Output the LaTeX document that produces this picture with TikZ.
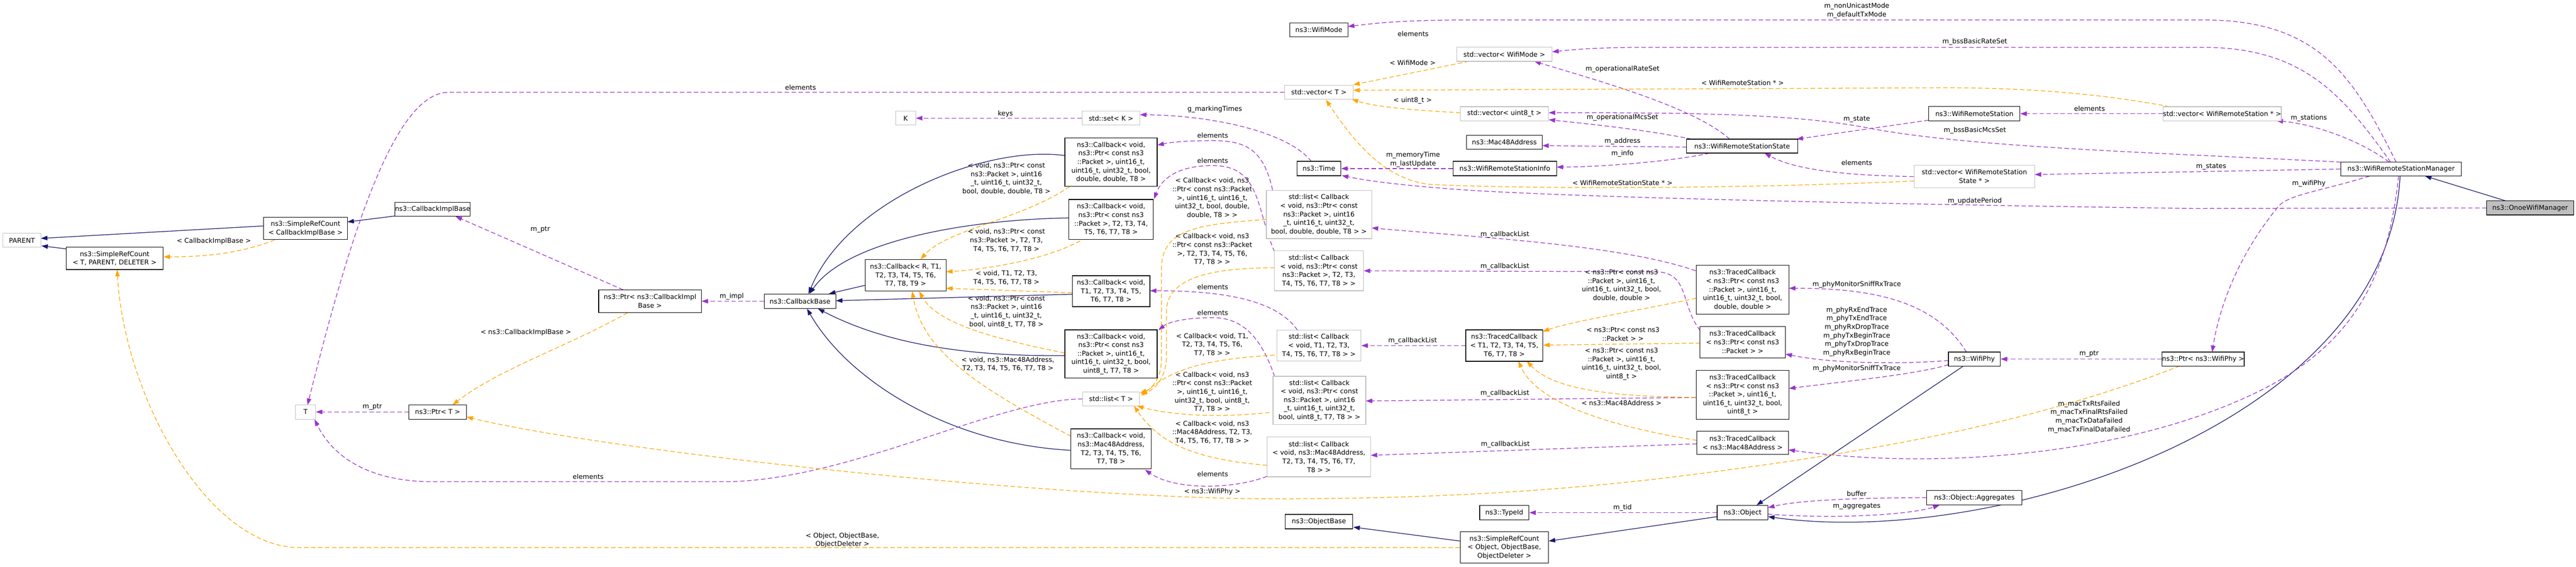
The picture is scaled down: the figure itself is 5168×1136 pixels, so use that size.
\documentclass[tikz,border=0pt]{standalone}
\usepackage{fontspec}
\setmainfont{DejaVu Sans}
\usetikzlibrary{arrows.meta,calc}
\definecolor{inhc}{HTML}{191970}
\definecolor{usec}{HTML}{9A32CD}
\definecolor{tplc}{HTML}{FFA500}
\definecolor{gbord}{HTML}{BFBFBF}
\definecolor{gfill}{HTML}{BFBFBF}
\pgfdeclarelayer{bglayer}
\pgfdeclarelayer{edgelayer}
\pgfsetlayers{bglayer,edgelayer,main}
\begin{document}
\begin{tikzpicture}[x=1pt,y=-1pt,
  every node/.style={font=\fontsize{13.33}{17.2}\selectfont},
  box/.style={draw=black,line width=1.2pt,fill=white,align=center,inner sep=0pt},
  gbox/.style={draw=gbord,line width=1.2pt,fill=white,align=center,inner sep=0pt},
  lbl/.style={align=center,inner sep=0pt},
  arrowtip/.style={-{Triangle[length=13pt,width=9pt]}},
  inh/.style={draw=inhc,line width=1.3pt,arrowtip},
  use/.style={draw=usec,line width=1.3pt,dash pattern=on 9pt off 5pt,arrowtip},
  tpl/.style={draw=tplc,line width=1.3pt,dash pattern=on 9pt off 5pt,arrowtip},
]
\useasboundingbox (0,0) rectangle (5168,1136);
\begin{pgfonlayer}{bglayer}
\fill[white] (0,0) rectangle (5168,1136);
\end{pgfonlayer}

% ---------------- nodes ----------------
\node[gbox,minimum width=76pt,minimum height=28pt] (PARENT) at (44,482) {PARENT};
\node[box,minimum width=168pt,minimum height=45pt] (SRCcib) at (613,458) {ns3::SimpleRefCount\\< CallbackImplBase >};
\node[box,minimum width=195pt,minimum height=45pt] (SRCtpd) at (230,518) {ns3::SimpleRefCount\\< T, PARENT, DELETER >};
\node[box,minimum width=150pt,minimum height=28pt] (CIB) at (868,420) {ns3::CallbackImplBase};
\node[gbox,minimum width=40pt,minimum height=29pt] (T) at (613,826) {T};
\node[box,minimum width=115pt,minimum height=29pt] (PtrT) at (878,826) {ns3::Ptr< T >};
\node[box,minimum width=206pt,minimum height=46pt] (PtrCIB) at (1304,604) {ns3::Ptr< ns3::CallbackImpl\\Base >};
\node[box,minimum width=144pt,minimum height=29pt] (CB) at (1605,604) {ns3::CallbackBase};
\node[box,minimum width=162pt,minimum height=63pt] (CbR) at (1817,552) {ns3::Callback< R, T1,\\T2, T3, T4, T5, T6,\\T7, T8, T9 >};
\node[gbox,minimum width=40pt,minimum height=28pt] (K) at (1817,237) {K};
\node[gbox,minimum width=116pt,minimum height=28pt] (setK) at (2229,237) {std::set< K >};
\node[box,minimum width=185pt,minimum height=97pt] (CbD) at (2229,325) {ns3::Callback< void,\\ns3::Ptr< const ns3\\::Packet >, uint16\_t,\\uint16\_t, uint32\_t, bool,\\double, double, T8 >};
\node[box,minimum width=170pt,minimum height=80pt] (CbP) at (2229,440) {ns3::Callback< void,\\ns3::Ptr< const ns3\\::Packet >, T2, T3, T4,\\T5, T6, T7, T8 >};
\node[box,minimum width=156pt,minimum height=62pt] (CbV) at (2229,584) {ns3::Callback< void,\\T1, T2, T3, T4, T5,\\T6, T7, T8 >};
\node[box,minimum width=185pt,minimum height=97pt] (CbU) at (2229,710) {ns3::Callback< void,\\ns3::Ptr< const ns3\\::Packet >, uint16\_t,\\uint16\_t, uint32\_t, bool,\\uint8\_t, T7, T8 >};
\node[gbox,minimum width=113pt,minimum height=28pt] (listT) at (2229,800) {std::list< T >};
\node[box,minimum width=161pt,minimum height=80pt] (CbM) at (2229,900) {ns3::Callback< void,\\ns3::Mac48Address,\\T2, T3, T4, T5, T6,\\T7, T8 >};
\node[box,minimum width=135pt,minimum height=29pt] (OB) at (2646,1046) {ns3::ObjectBase};
\node[box,minimum width=116pt,minimum height=28pt] (WM) at (2646,60) {ns3::WifiMode};
\node[gbox,minimum width=137pt,minimum height=28pt] (vecT) at (2646,185) {std::vector< T >};
\node[box,minimum width=88pt,minimum height=29pt] (Time) at (2646,338) {ns3::Time};
\node[gbox,minimum width=211pt,minimum height=97pt] (listD) at (2646,430) {std::list< Callback\\< void, ns3::Ptr< const\\ns3::Packet >, uint16\\\_t, uint16\_t, uint32\_t,\\bool, double, double, T8 > >};
\node[gbox,minimum width=179pt,minimum height=80pt] (listP) at (2646,543) {std::list< Callback\\< void, ns3::Ptr< const\\ns3::Packet >, T2, T3,\\T4, T5, T6, T7, T8 > >};
\node[gbox,minimum width=169pt,minimum height=62pt] (listV) at (2646,693) {std::list< Callback\\< void, T1, T2, T3,\\T4, T5, T6, T7, T8 > >};
\node[gbox,minimum width=186pt,minimum height=97pt] (listU) at (2647,803) {std::list< Callback\\< void, ns3::Ptr< const\\ns3::Packet >, uint16\\\_t, uint16\_t, uint32\_t,\\bool, uint8\_t, T7, T8 > >};
\node[gbox,minimum width=207pt,minimum height=80pt] (listM) at (2646,916) {std::list< Callback\\< void, ns3::Mac48Address,\\T2, T3, T4, T5, T6, T7,\\T8 > >};
\node[gbox,minimum width=191pt,minimum height=28pt] (vecWM) at (3018,109) {std::vector< WifiMode >};
\node[gbox,minimum width=177pt,minimum height=28pt] (vecU8) at (3018,228) {std::vector< uint8\_t >};
\node[box,minimum width=152pt,minimum height=28pt] (Mac) at (3018,285) {ns3::Mac48Address};
\node[box,minimum width=208pt,minimum height=29pt] (WRSI) at (3019,338) {ns3::WifiRemoteStationInfo};
\node[box,minimum width=155pt,minimum height=63pt] (TCT) at (3018,693) {ns3::TracedCallback\\< T1, T2, T3, T4, T5,\\T6, T7, T8 >};
\node[box,minimum width=99pt,minimum height=29pt] (TypeId) at (3018,1028) {ns3::TypeId};
\node[box,minimum width=177pt,minimum height=63pt] (SRCo) at (3018,1098) {ns3::SimpleRefCount\\< Object, ObjectBase,\\ObjectDeleter >};
\node[box,minimum width=223pt,minimum height=28pt] (WRSS) at (3495,293) {ns3::WifiRemoteStationState};
\node[box,minimum width=186pt,minimum height=98pt] (TCD) at (3496,581) {ns3::TracedCallback\\< ns3::Ptr< const ns3\\::Packet >, uint16\_t,\\uint16\_t, uint32\_t, bool,\\double, double >};
\node[box,minimum width=171pt,minimum height=63pt] (TCP) at (3496,686) {ns3::TracedCallback\\< ns3::Ptr< const ns3\\::Packet > >};
\node[box,minimum width=186pt,minimum height=98pt] (TCU) at (3496,792) {ns3::TracedCallback\\< ns3::Ptr< const ns3\\::Packet >, uint16\_t,\\uint16\_t, uint32\_t, bool,\\uint8\_t >};
\node[box,minimum width=184pt,minimum height=46pt] (TCM) at (3496,888) {ns3::TracedCallback\\< ns3::Mac48Address >};
\node[box,minimum width=102pt,minimum height=29pt] (Object) at (3496,1028) {ns3::Object};
\node[box,minimum width=183pt,minimum height=29pt] (WRS) at (3961,228) {ns3::WifiRemoteStation};
\node[gbox,minimum width=242pt,minimum height=45pt] (vecWRSS) at (3961,354) {std::vector< WifiRemoteStation\\State * >};
\node[box,minimum width=104pt,minimum height=28pt] (WifiPhy) at (3961,720) {ns3::WifiPhy};
\node[box,minimum width=191pt,minimum height=29pt] (Agg) at (3961,998) {ns3::Object::Aggregates};
\node[box,minimum width=162pt,minimum height=28pt] (PtrWP) at (4420,720) {ns3::Ptr< ns3::WifiPhy >};
\node[gbox,minimum width=217pt,minimum height=28pt] (vecWRS) at (4458,228) {std::vector< WifiRemoteStation * >};
\node[box,minimum width=242pt,minimum height=28pt] (WRSM) at (4817,339) {ns3::WifiRemoteStationManager};
\node[box,fill=gfill,minimum width=174pt,minimum height=28pt] (Onoe) at (5076,417) {ns3::OnoeWifiManager};

% ---------------- edges ----------------
\begin{pgfonlayer}{edgelayer}
% inheritance
\draw[inh] ($(SRCcib)+(-84,-5)$) -- ($(PARENT)+(38,-4)$);
\draw[inh] ($(SRCtpd)+(-97,-19)$) -- ($(PARENT)+(39,11)$);
\draw[inh] ($(CIB)+(-75,13)$) -- ($(SRCcib)+(84,-13)$);
\draw[inh] ($(CbR)+(-81,20)$) -- ($(CB)+(58,-15)$);
\draw[inh] ($(CbD)+(-92,-13)$) .. controls (1980,290) and (1700,400) .. ($(CB)+(17,-15)$);
\draw[inh] ($(CbP)+(-85,-3)$) .. controls (1950,440) and (1700,480) .. ($(CB)+(19,-15)$);
\draw[inh] ($(CbV)+(-78,6)$) -- ($(CB)+(72,-1)$);
\draw[inh] ($(CbU)+(-92,3)$) .. controls (1880,716) and (1740,670) .. ($(CB)+(36,15)$);
\draw[inh] ($(CbM)+(-80,3)$) .. controls (1900,890) and (1700,760) .. ($(CB)+(14,15)$);
\draw[inh] ($(WifiPhy)+(-22,14)$) -- ($(Object)+(28,-15)$);
\draw[inh] ($(WRSM)+(-2,14)$) .. controls (4790,850) and (4000,1100) .. ($(Object)+(51,8)$);
\draw[inh] ($(Onoe)+(-48,-14)$) -- ($(WRSM)+(48,14)$);
\draw[inh] ($(Object)+(-51,8)$) -- ($(SRCo)+(89,-13)$);
\draw[inh] ($(SRCo)+(-88,-13)$) -- ($(OB)+(69,11)$);
% usage
\draw[use] (PtrT.west) -- (T.east);
\draw[use] ($(PtrCIB)+(-54,-23)$) -- ($(CIB)+(46,14)$);
\draw[use] (CB.west) -- (PtrCIB.east);
\draw[use] (setK.west) -- (K.east);
\draw[use] ($(Time)+(-15,-14)$) .. controls (2590,270) and (2450,232) .. ($(setK)+(58,-7)$);
\draw[use] (vecT.west) -- (900,185) .. controls (790,185) and (700,480) .. ($(T)+(4,-14)$);
\draw[use] (listT.west) .. controls (2000,800) and (1700,966) .. (1450,966) -- (870,966) .. controls (720,966) and (660,900) .. ($(T)+(18,15)$);
\draw[use] ($(listD)+(-93,-49)$) .. controls (2535,300) and (2500,282) .. (2433,282) .. controls (2380,282) and (2350,285) .. ($(CbD)+(93,-34)$);
\draw[use] ($(listP)+(-89,-38)$) .. controls (2520,420) and (2530,332) .. (2433,332) .. controls (2360,332) and (2330,360) .. ($(CbP)+(86,-41)$);
\draw[use] ($(listV)+(-43,-31)$) .. controls (2560,600) and (2450,583) .. ($(CbV)+(78,-1)$);
\draw[use] ($(listU)+(-90,-48)$) .. controls (2525,660) and (2480,637) .. (2433,637) .. controls (2380,637) and (2345,645) .. ($(CbU)+(95,-48)$);
\draw[use] ($(listM)+(-104,39)$) .. controls (2480,980) and (2360,985) .. ($(CbM)+(68,42)$);
\draw[use] ($(TCD)+(-94,-38)$) .. controls (3250,490) and (2950,475) .. ($(listD)+(106,27)$);
\draw[use] ($(TCP)+(-85,-23)$) .. controls (3370,610) and (3390,545) .. (3320,545) -- ($(listP)+(90,0)$);
\draw[use] (TCT.west) -- (listV.east);
\draw[use] ($(TCU)+(-94,5)$) -- ($(listU)+(93,1)$);
\draw[use] ($(TCM)+(-92,2)$) -- ($(listM)+(104,-3)$);
\draw[use] ($(WifiPhy)+(-16,-14)$) .. controls (3880,600) and (3750,578) .. ($(TCD)+(93,-3)$);
\draw[use] ($(WifiPhy)+(-52,3)$) .. controls (3820,730) and (3680,730) .. ($(TCP)+(86,24)$);
\draw[use] ($(WifiPhy)+(-52,11)$) .. controls (3850,750) and (3700,765) .. ($(TCU)+(93,-13)$);
\draw[use] (PtrWP.west) -- (WifiPhy.east);
\draw[use] ($(WRSM)+(-63,14)$) .. controls (4650,385) and (4590,390) .. (4570,415) .. controls (4500,500) and (4455,600) .. ($(PtrWP)+(18,-14)$);
\draw[use] ($(WRSM)+(-5,14)$) .. controls (4790,560) and (4720,680) .. (4560,770) .. controls (4300,910) and (3900,945) .. ($(TCM)+(92,14)$);
\draw[use] ($(WRSM)+(-10,-14)$) .. controls (4720,150) and (4650,40) .. (4420,40) -- (2950,40) .. controls (2800,40) and (2750,48) .. ($(WM)+(58,-7)$);
\draw[use] ($(WRSM)+(-21,-14)$) .. controls (4700,190) and (4620,95) .. (4420,95) -- (3300,95) .. controls (3200,95) and (3150,100) .. ($(vecWM)+(96,-5)$);
\draw[use] ($(WRSM)+(-121,-14)$) .. controls (4300,305) and (3950,295) .. (3750,257) .. controls (3600,228) and (3400,226) .. ($(vecU8)+(89,-2)$);
\draw[use] ($(WRSM)+(-24,-14)$) .. controls (4740,285) and (4650,250) .. ($(vecWRS)+(109,14)$);
\draw[use] (WRSM.west) -- ($(vecWRSS)+(121,-4)$);
\draw[use] (vecWRS.west) -- (WRS.east);
\draw[use] ($(WRS)+(-92,13)$) -- ($(WRSS)+(109,-14)$);
\draw[use] (vecWRSS.west) .. controls (3700,352) and (3600,340) .. ($(WRSS)+(45,14)$);
\draw[use] ($(WRSS)+(-25,-14)$) .. controls (3400,215) and (3200,160) .. ($(vecWM)+(60,14)$);
\draw[use] ($(WRSS)+(-101,-14)$) .. controls (3300,260) and (3200,250) .. ($(vecU8)+(89,12)$);
\draw[use] ($(WRSS)+(-111,2)$) -- ($(Mac)+(76,7)$);
\draw[use] ($(WRSS)+(-65,14)$) .. controls (3350,325) and (3200,335) .. ($(WRSI)+(104,-3)$);
\draw[use] (WRSI.west) -- (Time.east);
\draw[use] (Onoe.west) -- (4400,418) .. controls (3800,410) and (3100,395) .. (2900,378) .. controls (2800,370) and (2740,362) .. ($(Time)+(46,14)$);
\draw[use] (Object.west) -- (TypeId.east);
\draw[use] (Agg.west) .. controls (3700,998) and (3600,1005) .. ($(Object)+(51,-10)$);
\draw[use] ($(Object)+(51,3)$) .. controls (3700,1042) and (3840,1030) .. ($(Agg)+(-70,15)$);
% template
\draw[tpl] ($(SRCcib)+(-62,23)$) .. controls (480,510) and (400,515) .. ($(SRCtpd)+(98,-3)$);
\draw[tpl] (SRCo.west) -- (600,1098) .. controls (420,1098) and (250,800) .. ($(SRCtpd)+(5,23)$);
\draw[tpl] ($(PtrCIB)+(-45,23)$) .. controls (1150,690) and (1000,740) .. ($(PtrT)+(30,-14)$);
\draw[tpl] ($(PtrWP)+(-47,14)$) .. controls (4100,840) and (3800,900) .. (3400,951) .. controls (3100,990) and (2800,1002) .. (2500,1000) .. controls (2000,990) and (1200,900) .. ($(PtrT)+(58,10)$);
\draw[tpl] ($(CbD)+(-83,49)$) .. controls (2050,440) and (1900,460) .. ($(CbR)+(30,-32)$);
\draw[tpl] ($(CbP)+(-62,43)$) .. controls (2100,520) and (1980,540) .. ($(CbR)+(81,-7)$);
\draw[tpl] ($(CbV)+(-78,3)$) -- ($(CbR)+(81,26)$);
\draw[tpl] ($(CbU)+(-93,-2)$) .. controls (2000,680) and (1880,650) .. ($(CbR)+(27,32)$);
\draw[tpl] ($(CbM)+(-80,-25)$) .. controls (1950,770) and (1850,700) .. ($(CbR)+(13,32)$);
\draw[tpl] ($(listD)+(-106,10)$) .. controls (2400,450) and (2330,460) .. (2330,540) -- (2330,720) .. controls (2330,760) and (2310,780) .. ($(listT)+(58,-12)$);
\draw[tpl] ($(listP)+(-89,-6)$) .. controls (2420,537) and (2345,560) .. (2340,620) -- (2340,720) .. controls (2338,760) and (2315,782) .. ($(listT)+(59,-10)$);
\draw[tpl] ($(listV)+(-89,19)$) .. controls (2420,720) and (2350,740) .. ($(listT)+(61,-6)$);
\draw[tpl] ($(listU)+(-100,24)$) .. controls (2430,840) and (2340,830) .. ($(listT)+(52,14)$);
\draw[tpl] ($(listM)+(-104,17)$) .. controls (2380,920) and (2320,880) .. ($(listT)+(46,14)$);
\draw[tpl] ($(vecWM)+(-71,14)$) -- ($(vecT)+(69,-15)$);
\draw[tpl] ($(vecU8)+(-88,-2)$) .. controls (2850,222) and (2760,215) .. ($(vecT)+(66,14)$);
\draw[tpl] ($(vecWRS)+(-105,-14)$) .. controls (4200,185) and (4050,176) .. (3900,176) -- ($(vecT)+(69,-4)$);
\draw[tpl] ($(vecWRSS)+(-121,9)$) .. controls (3500,378) and (3100,380) .. (2870,370) .. controls (2780,360) and (2720,290) .. ($(vecT)+(14,15)$);
\draw[tpl] ($(TCD)+(-93,17)$) .. controls (3300,620) and (3150,645) .. ($(TCT)+(77,-28)$);
\draw[tpl] ($(TCP)+(-85,2)$) -- ($(TCT)+(78,-1)$);
\draw[tpl] ($(TCU)+(-93,5)$) .. controls (3250,795) and (3120,785) .. ($(TCT)+(45,31)$);
\draw[tpl] ($(TCM)+(-92,-5)$) .. controls (3200,850) and (3080,800) .. ($(TCT)+(28,31)$);
\end{pgfonlayer}

% ---------------- labels ----------------
\node[lbl] (a1) at (747,816) {m\_ptr};
\node[lbl] (a2) at (1084,460) {m\_ptr};
\node[lbl] (a3) at (1468,594) {m\_impl};
\node[lbl] (a4) at (2017,228) {keys};
\node[lbl] (a5) at (2437,219) {g\_markingTimes};
\node[lbl] (a6) at (1606,175) {elements};
\node[lbl] (a7) at (1180,956) {elements};
\node[lbl] (a8) at (2433,272) {elements};
\node[lbl] (a9) at (2433,322) {elements};
\node[lbl] (a10) at (2433,575) {elements};
\node[lbl] (a11) at (2433,627) {elements};
\node[lbl] (a12) at (2433,951) {elements};
\node[lbl] (a13) at (3019,470) {m\_callbackList};
\node[lbl] (a14) at (3019,534) {m\_callbackList};
\node[lbl] (a15) at (2834,683) {m\_callbackList};
\node[lbl] (a16) at (3019,789) {m\_callbackList};
\node[lbl] (a17) at (3020,891) {m\_callbackList};
\node[lbl] (a18) at (3725,571) {m\_phyMonitorSniffRxTrace};
\node[lbl] (a19) at (3725,665) {m\_phyRxEndTrace\\m\_phyTxEndTrace\\m\_phyRxDropTrace\\m\_phyTxBeginTrace\\m\_phyTxDropTrace\\m\_phyRxBeginTrace};
\node[lbl] (a20) at (3725,739) {m\_phyMonitorSniffTxTrace};
\node[lbl] (a21) at (4191,710) {m\_ptr};
\node[lbl] (a22) at (4632,368) {m\_wifiPhy};
\node[lbl] (a23) at (4191,836) {m\_macTxRtsFailed\\m\_macTxFinalRtsFailed\\m\_macTxDataFailed\\m\_macTxFinalDataFailed};
\node[lbl] (a24) at (3725,21) {m\_nonUnicastMode\\m\_defaultTxMode};
\node[lbl] (a25) at (3962,84) {m\_bssBasicRateSet};
\node[lbl] (a26) at (3962,262) {m\_bssBasicMcsSet};
\node[lbl] (a27) at (4632,237) {m\_stations};
\node[lbl] (a28) at (4436,334) {m\_states};
\node[lbl] (a29) at (4192,218) {elements};
\node[lbl] (a30) at (3725,239) {m\_state};
\node[lbl] (a31) at (3725,326) {elements};
\node[lbl] (a32) at (3255,139) {m\_operationalRateSet};
\node[lbl] (a33) at (3255,236) {m\_operationalMcsSet};
\node[lbl] (a34) at (3255,283) {m\_address};
\node[lbl] (a35) at (3255,308) {m\_info};
\node[lbl] (a36) at (2835,320) {m\_memoryTime\\m\_lastUpdate};
\node[lbl] (a37) at (3962,403) {m\_updatePeriod};
\node[lbl] (a38) at (3255,1018) {m\_tid};
\node[lbl] (a39) at (3725,990) {buffer};
\node[lbl] (a40) at (3725,1016) {m\_aggregates};
\node[lbl] (a41) at (2835,68) {elements};
% template labels
\node[lbl] (b1) at (429,484) {< CallbackImplBase >};
\node[lbl] (b2) at (1690,1083) {< Object, ObjectBase,\\ObjectDeleter >};
\node[lbl] (b3) at (1055,667) {< ns3::CallbackImplBase >};
\node[lbl] (b4) at (2432,986) {< ns3::WifiPhy >};
\node[lbl] (b5) at (2019,358) {< void, ns3::Ptr< const\\ns3::Packet >, uint16\\\_t, uint16\_t, uint32\_t,\\bool, double, double, T8 >};
\node[lbl] (b6) at (2019,482) {< void, ns3::Ptr< const\\ns3::Packet >, T2, T3,\\T4, T5, T6, T7, T8 >};
\node[lbl] (b7) at (2019,557) {< void, T1, T2, T3,\\T4, T5, T6, T7, T8 >};
\node[lbl] (b8) at (2019,625) {< void, ns3::Ptr< const\\ns3::Packet >, uint16\\\_t, uint16\_t, uint32\_t,\\bool, uint8\_t, T7, T8 >};
\node[lbl] (b9) at (2022,730) {< void, ns3::Mac48Address,\\T2, T3, T4, T5, T6, T7, T8 >};
\node[lbl] (b10) at (2432,397) {< Callback< void, ns3\\::Ptr< const ns3::Packet\\>, uint16\_t, uint16\_t,\\uint32\_t, bool, double,\\double, T8 > >};
\node[lbl] (b11) at (2432,500) {< Callback< void, ns3\\::Ptr< const ns3::Packet\\>, T2, T3, T4, T5, T6,\\T7, T8 > >};
\node[lbl] (b12) at (2432,691) {< Callback< void, T1,\\T2, T3, T4, T5, T6,\\T7, T8 > >};
\node[lbl] (b13) at (2432,786) {< Callback< void, ns3\\::Ptr< const ns3::Packet\\>, uint16\_t, uint16\_t,\\uint32\_t, bool, uint8\_t,\\T7, T8 > >};
\node[lbl] (b14) at (2432,867) {< Callback< void, ns3\\::Mac48Address, T2, T3,\\T4, T5, T6, T7, T8 > >};
\node[lbl] (b15) at (2834,126) {< WifiMode >};
\node[lbl] (b16) at (2834,202) {< uint8\_t >};
\node[lbl] (b17) at (3496,166) {< WifiRemoteStation * >};
\node[lbl] (b18) at (3255,367) {< WifiRemoteStationState * >};
\node[lbl] (b19) at (3253,572) {< ns3::Ptr< const ns3\\::Packet >, uint16\_t,\\uint16\_t, uint32\_t, bool,\\double, double >};
\node[lbl] (b20) at (3256,670) {< ns3::Ptr< const ns3\\::Packet > >};
\node[lbl] (b21) at (3253,730) {< ns3::Ptr< const ns3\\::Packet >, uint16\_t,\\uint16\_t, uint32\_t, bool,\\uint8\_t >};
\node[lbl] (b22) at (3253,808) {< ns3::Mac48Address >};
\end{tikzpicture}
\end{document}
